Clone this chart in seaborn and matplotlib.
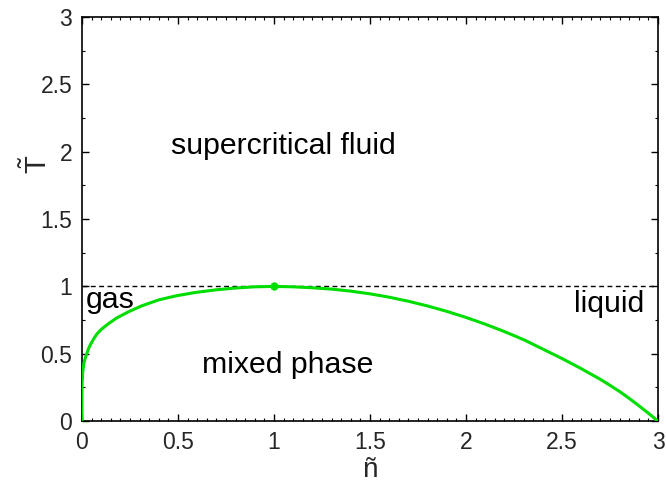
import matplotlib
matplotlib.use("Agg")
import matplotlib.pyplot as plt
from matplotlib.ticker import MultipleLocator, FuncFormatter
import numpy as np
import pandas as pd
import seaborn as sns

# coexistence curve (reduced density, reduced temperature)
n_gas = [0.0, 0.0002, 0.001, 0.004, 0.010, 0.018, 0.025, 0.035, 0.045, 0.065, 0.08, 0.10,
         0.135, 0.18, 0.24, 0.31, 0.40, 0.49, 0.59, 0.70, 0.80, 0.90, 1.0]
T_gas = [0.0, 0.20, 0.28, 0.36, 0.43, 0.47, 0.50, 0.54, 0.57, 0.62, 0.65, 0.68,
         0.72, 0.765, 0.81, 0.855, 0.90, 0.93, 0.955, 0.975, 0.988, 0.997, 1.0]
n_liq = [1.1, 1.2, 1.3, 1.4, 1.5, 1.6, 1.7, 1.8, 1.9, 2.0,
         2.1, 2.2, 2.3, 2.4, 2.5, 2.6, 2.7, 2.75, 2.8, 2.85, 2.9, 2.95, 3.0]
T_liq = [0.997, 0.99, 0.98, 0.965, 0.945, 0.92, 0.89, 0.855, 0.815, 0.77,
         0.72, 0.665, 0.605, 0.535, 0.465, 0.39, 0.31, 0.266, 0.22, 0.169, 0.115, 0.059, 0.0]

n_crit = [1.0]
T_crit = [1.0]

region_labels = ["supercritical fluid", "gas", "liquid", "mixed phase"]
label_n = [0.464, 0.02, 2.93, 0.623]
label_T = [1.98, 0.84, 0.81, 0.354]

curve = pd.DataFrame({"n": n_gas + n_liq, "T": T_gas + T_liq})

sns.set_theme(style="ticks")
plt.rcParams["font.family"] = ["Liberation Sans", "DejaVu Sans"]
plt.rcParams["mathtext.fontset"] = "custom"
plt.rcParams["mathtext.rm"] = "Liberation Sans"

fig = plt.figure(figsize=(6.66, 4.83), dpi=100)
ax = fig.add_axes([0.123, 0.128, 0.865, 0.837])

green = "#00dd00"
ax.axhline(1.0, color="black", lw=1.0, ls=(0, (3.5, 2.5)), zorder=1)
sns.lineplot(data=curve, x="n", y="T", sort=False, color=green, lw=2.2, ax=ax, zorder=3)
sns.scatterplot(x=n_crit, y=T_crit, color=green, s=30, edgecolor=green, ax=ax, zorder=4)

ax.set_xlim(0, 3)
ax.set_ylim(0, 3)

ax.xaxis.set_major_locator(MultipleLocator(0.5))
ax.xaxis.set_minor_locator(MultipleLocator(0.05))
ax.yaxis.set_major_locator(MultipleLocator(0.5))
ax.yaxis.set_minor_locator(MultipleLocator(0.25))
fmt = FuncFormatter(lambda v, p: f"{v:g}")
ax.xaxis.set_major_formatter(fmt)
ax.yaxis.set_major_formatter(fmt)

ax.tick_params(which="both", direction="in", top=True, right=True, color="black")
ax.tick_params(which="major", length=5, width=1.0, labelsize=16.5, pad=7)
ax.tick_params(which="minor", length=2.5, width=0.8)
for sp in ax.spines.values():
    sp.set_visible(True)
    sp.set_color("black")
    sp.set_linewidth(1.2)

ax.set_xlabel("ñ", fontsize=20, va="baseline")
ax.set_ylabel(r"$\mathregular{\tilde{T}}$", fontsize=21)
ax.xaxis.set_label_coords(0.5, -0.137)
ax.yaxis.set_label_coords(-0.05, 0.634)

for txt, x, y in zip(region_labels, label_n, label_T):
    ha = "right" if txt == "liquid" else "left"
    ax.text(x, y, txt, fontsize=21.8, ha=ha, va="baseline", color="black")

fig.savefig("out.png", dpi=100)
